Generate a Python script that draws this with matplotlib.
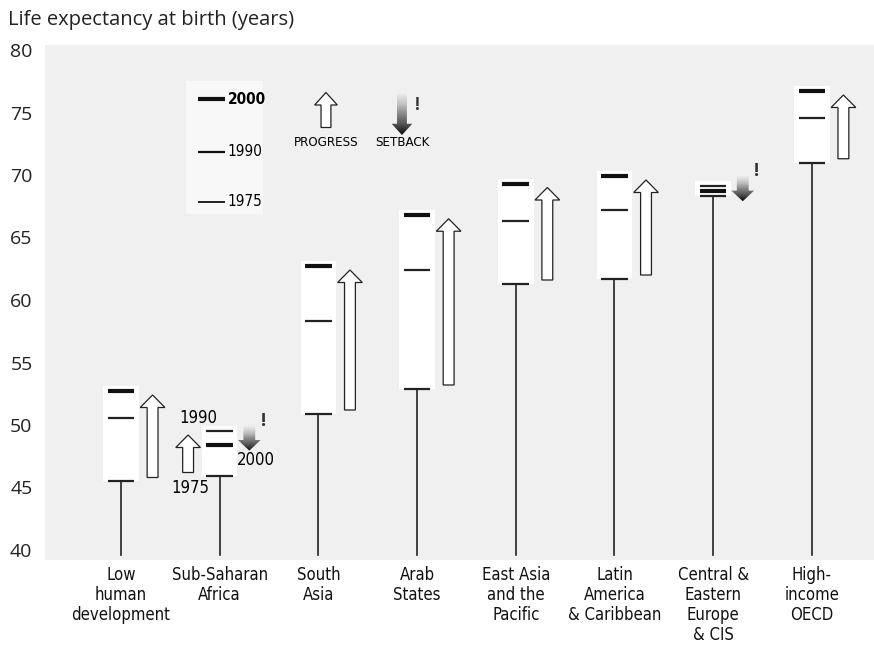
import numpy as np
import matplotlib
matplotlib.use("Agg")
import matplotlib.pyplot as plt
from matplotlib.patches import FancyArrow, Rectangle

# ---------------- data ----------------
categories = ["Low\nhuman\ndevelopment", "Sub-Saharan\nAfrica", "South\nAsia",
              "Arab\nStates", "East Asia\nand the\nPacific",
              "Latin\nAmerica\n& Caribbean", "Central &\nEastern\nEurope\n& CIS",
              "High-\nincome\nOECD"]
le_1975 = [45.5, 45.9, 50.9, 52.9, 61.3, 61.7, 68.3, 71.0]
le_1990 = [50.6, 49.5, 58.3, 62.4, 66.3, 67.2, 69.1, 74.6]
le_2000 = [52.7, 48.4, 62.7, 66.8, 69.3, 69.9, 68.7, 76.7]
y_ticks = [40, 45, 50, 55, 60, 65, 70, 75, 80]
title = "Life expectancy at birth (years)"

REG = ["Open Sans", "DejaVu Sans"]
COND = dict(family="DejaVu Sans", stretch="condensed")

fig = plt.figure(figsize=(8.74, 6.49), dpi=100)
ax = fig.add_axes([45 / 874, 89 / 649, 829 / 874, 515 / 649])
ax.set_facecolor("#f0f0f0")
ax.set_xlim(-0.77, 7.63)
ax.set_ylim(39.2, 80.4)
for s in ax.spines.values():
    s.set_visible(False)
ax.set_xticks([])
ax.set_yticks(y_ticks)
ax.set_yticklabels([str(t) for t in y_ticks], family=REG, fontsize=14,
                   color="#222222")
ax.tick_params(axis="y", length=0, pad=9)

fig.text(8 / 874, 1 - 20 / 649, title, family=REG, fontsize=14.5,
         color="#222222", va="center", ha="left")

x = np.arange(len(categories))
box_w = 0.36
mark_w = 0.27


def hollow_up(xc, y0, y1, shaft=0.11, head=0.25, hl=1.0):
    a = FancyArrow(xc, y0, 0, y1 - y0, width=shaft, head_width=head,
                   head_length=hl, length_includes_head=True,
                   fc="white", ec="#222222", lw=0.9, zorder=4)
    ax.add_patch(a)


def setback(xc, ytop, ybot, shaft=0.12, head=0.23, hl=0.85):
    a = FancyArrow(xc, ytop, 0, ybot - ytop, width=shaft, head_width=head,
                   head_length=hl, length_includes_head=True,
                   fc="none", ec="none", zorder=4)
    ax.add_patch(a)
    grad = np.linspace(0.15, 0.95, 64).reshape(-1, 1)
    im = ax.imshow(grad, cmap="Greys", vmin=0, vmax=1, aspect="auto",
                   extent=[xc - head / 2, xc + head / 2, ybot, ytop],
                   origin="upper", zorder=4, interpolation="bilinear")
    im.set_clip_path(a)


for i in range(len(categories)):
    v75, v90, v00 = le_1975[i], le_1990[i], le_2000[i]
    top = max(v90, v00)
    # white box behind marks
    ax.add_patch(Rectangle((x[i] - box_w / 2, v75), box_w, top - v75 + 0.4,
                           fc="white", ec="none", zorder=1))
    # stem from 40 to 1975 value
    ax.plot([x[i], x[i]], [39.6, v75], color="#222222", lw=1.2, zorder=3)
    ax.plot([x[i] - mark_w / 2, x[i] + mark_w / 2], [v75, v75],
            color="#222222", lw=1.6, zorder=3, solid_capstyle="butt")
    ax.plot([x[i] - mark_w / 2, x[i] + mark_w / 2], [v90, v90],
            color="#222222", lw=1.6, zorder=3, solid_capstyle="butt")
    ax.plot([x[i] - mark_w / 2, x[i] + mark_w / 2], [v00, v00],
            color="#111111", lw=3.0, zorder=3, solid_capstyle="butt")

    is_setback = v00 < v90
    prog_end = v90 if is_setback else v00
    if prog_end - v75 > 2:
        side = -0.32 if is_setback else 0.32
        hollow_up(x[i] + side, v75 + 0.3, prog_end - 0.3)
    if is_setback:
        mid = (v90 + v00) / 2
        setback(x[i] + 0.30, mid + 1.0, mid - 1.0)
        ax.text(x[i] + 0.44, mid + 1.4, "!", family=REG, fontsize=13,
                fontweight="bold", color="#333333", ha="center", va="center",
                zorder=5)

    ax.text(x[i], 38.75, categories[i], fontsize=12, ha="center", va="top",
            linespacing=1.14, color="#111111", **COND)

# SSA year annotations
ax.text(x[1] - 0.22, le_1990[1] + 1.05, "1990", fontsize=12,
        ha="center", va="center", zorder=5, **COND)
ax.text(x[1] - 0.30, le_1975[1] - 0.95, "1975", fontsize=12,
        ha="center", va="center", zorder=5, **COND)
ax.text(x[1] + 0.37, le_2000[1] - 1.2, "2000", fontsize=12,
        ha="center", va="center", zorder=5, **COND)

# key (top-left)
ax.add_patch(Rectangle((0.66, 66.9), 0.78, 10.6, fc="white", ec="none",
                       alpha=0.6, zorder=1))
key_years = ["2000", "1990", "1975"]
key_y = [76.08, 71.84, 67.84]
key_lw = [3.0, 1.6, 1.3]
key_wt = ["bold", "normal", "normal"]
for yr, yy, lw, wt in zip(key_years, key_y, key_lw, key_wt):
    ax.plot([0.78, 1.05], [yy, yy], color="#111111", lw=lw, zorder=3,
            solid_capstyle="butt")
    ax.text(1.08, yy, yr, fontsize=11, fontweight=wt,
            ha="left", va="center", zorder=5, **COND)

hollow_up(2.077, 73.8, 76.6, shaft=0.10, head=0.23, hl=1.0)
ax.text(2.077, 72.56, "PROGRESS", fontsize=9.5, ha="center",
        va="center", zorder=5, **COND)
setback(2.847, 76.5, 73.2, shaft=0.10, head=0.21, hl=0.9)
ax.text(3.0, 75.6, "!", family=REG, fontsize=12, fontweight="bold",
        color="#333333", ha="center", va="center", zorder=5)
ax.text(2.847, 72.56, "SETBACK", fontsize=9.5, ha="center",
        va="center", zorder=5, **COND)

ax.set_xlim(-0.77, 7.63)
ax.set_ylim(39.2, 80.4)

fig.savefig("out.png", dpi=100)
